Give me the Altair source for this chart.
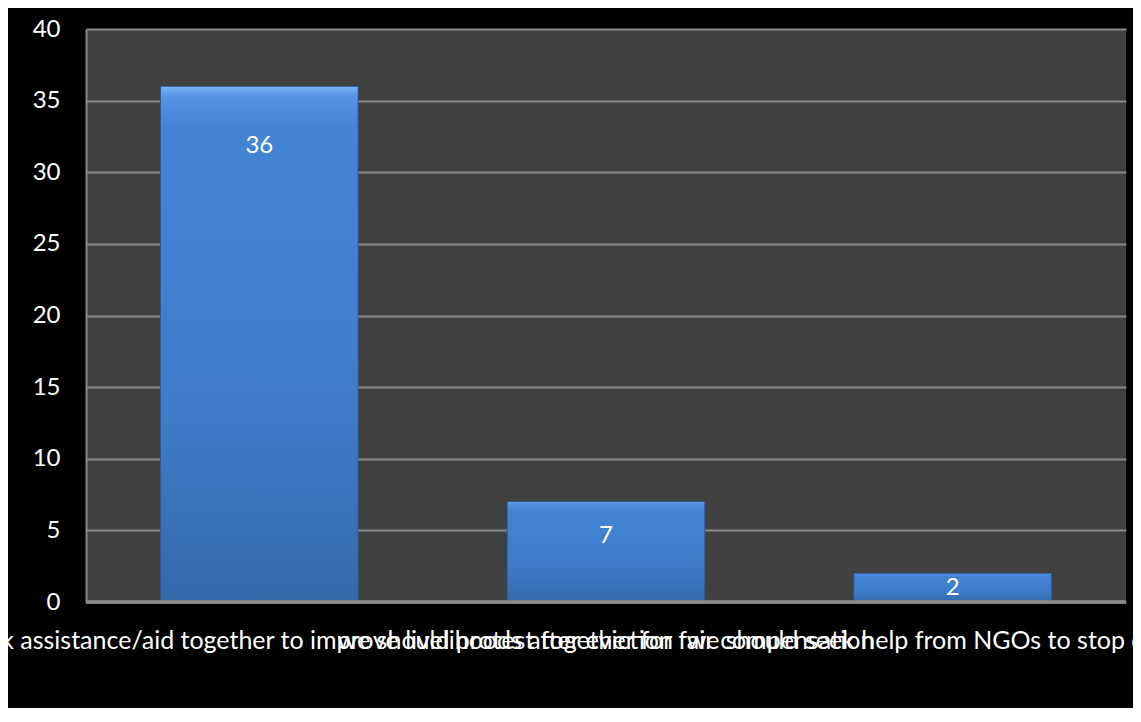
import altair as alt
import pandas as pd

categories = [
    "we should seek assistance/aid together to improve livelihoods after eviction",
    "we should protest together for fair compensation",
    "we should seek help from NGOs to stop eviction",
]
values = [36, 7, 2]

df = pd.DataFrame({"cat": categories, "value": values})

FONT = "Lato"

x = alt.X(
    "cat:N",
    sort=categories,
    title=None,
    scale=alt.Scale(paddingInner=0, paddingOuter=0),
    axis=alt.Axis(
        labelAngle=0,
        labelOverlap=False,
        labelBound=False,
        labelLimit=0,
        labelColor="white",
        labelFont=FONT,
        labelFontSize=25,
        labelPadding=26,
        ticks=False,
        domain=False,
        grid=False,
    ),
)

y = alt.Y(
    "value:Q",
    title=None,
    scale=alt.Scale(domain=[0, 40], nice=False),
    axis=alt.Axis(
        values=[0, 5, 10, 15, 20, 25, 30, 35, 40],
        labelColor="white",
        labelFont=FONT,
        labelFontSize=24,
        labelPadding=26,
        ticks=False,
        domain=True,
        domainColor="#8a8a8a",
        domainWidth=2,
        grid=True,
        gridColor="#8a8a8a",
        gridWidth=2,
    ),
)

bars = alt.Chart(df).mark_bar(
    width=alt.RelativeBandSize(0.57),
    stroke="#2b5a98",
    strokeWidth=1,
    color=alt.Gradient(
        gradient="linear",
        x1=0, y1=0, x2=0, y2=1,
        stops=[
            alt.GradientStop(color="#7ab4f6", offset=0),
            alt.GradientStop(color="#5593e3", offset=0.02),
            alt.GradientStop(color="#4384d6", offset=0.08),
            alt.GradientStop(color="#3f7dcb", offset=0.6),
            alt.GradientStop(color="#3669aa", offset=1),
        ],
    ),
).encode(x=x, y=y)

labels = alt.Chart(df).transform_calculate(
    pos="datum.value - min(datum.value / 2, 2 + datum.value * 0.06)"
).mark_text(
    color="white", font=FONT, fontSize=24, baseline="middle", align="center"
).encode(
    x=alt.X("cat:N", sort=categories),
    y=alt.Y("pos:Q"),
    text=alt.Text("value:Q"),
)

base_line = alt.Chart(df).mark_rule(color="#8a8a8a", strokeWidth=3).encode(
    y=alt.datum(0)
)

chart = (
    alt.layer(bars, labels, base_line)
    .properties(
        width=1040,
        height=573,
        background="black",
        padding={"left": 78, "top": 21, "right": 7, "bottom": 106},
        autosize=alt.AutoSizeParams(type="none"),
    )
    .configure_view(fill="#404040", stroke=None)
)

chart.save("out.html", embed_options={"renderer": "svg", "actions": False})
